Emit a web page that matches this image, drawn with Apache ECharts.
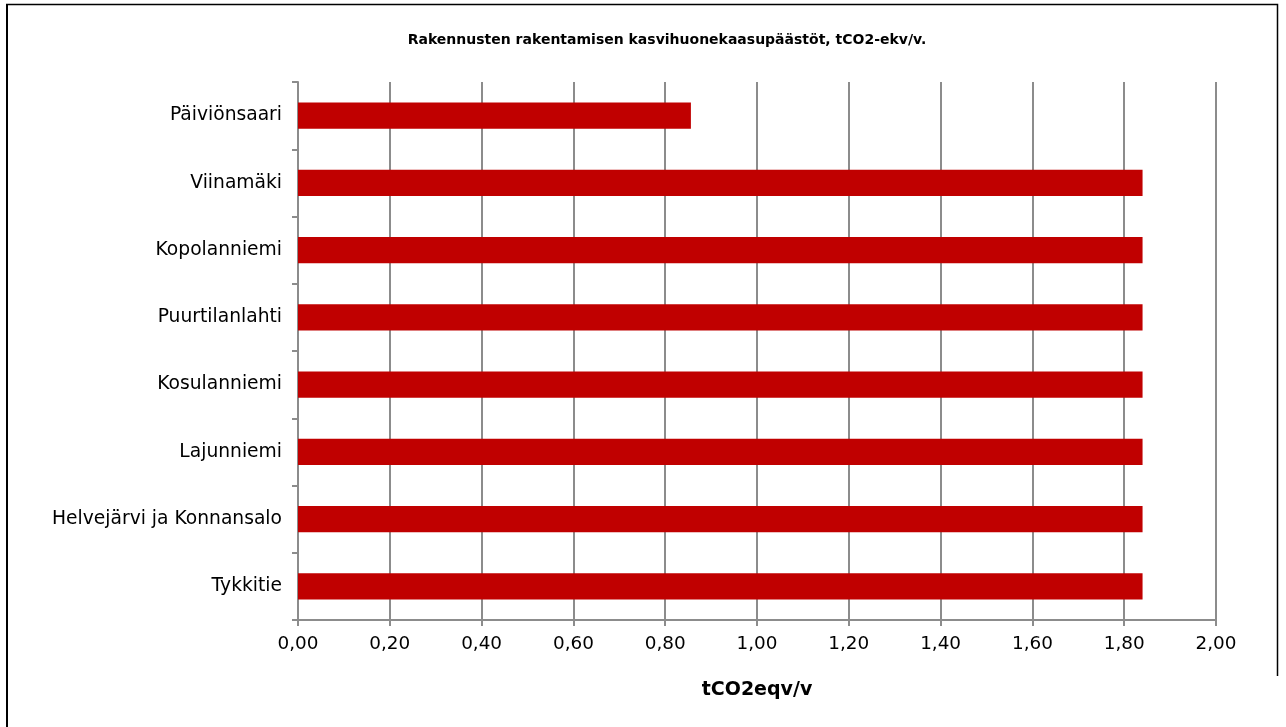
<!DOCTYPE html>
<html>
<head>
<meta charset="utf-8">
<script src="https://cdn.jsdelivr.net/npm/echarts@6/dist/echarts.min.js"></script>
<style>
  html, body { margin: 0; padding: 0; background: #fff; }
  #chart { width: 1286px; height: 727px; }
</style>
</head>
<body>
<div id="chart"></div>
<script>
// Areas, listed from the bottom of the chart to the top
const areas = [
  'Tykkitie',
  'Helvejärvi ja Konnansalo',
  'Lajunniemi',
  'Kosulanniemi',
  'Puurtilanlahti',
  'Kopolanniemi',
  'Viinamäki',
  'Päiviönsaari'
];
// Annual emissions from construction, tCO2-eqv per year
const emissions = [1.84, 1.84, 1.84, 1.84, 1.84, 1.84, 1.84, 0.856];

const titleText = 'Rakennusten rakentamisen kasvihuonekaasupäästöt, tCO2-ekv/v.';
const axisName = 'tCO2eqv/v';

const font = '"DejaVu Sans", Verdana, sans-serif';
const lineGray = '#8c8c8c';

const chart = echarts.init(document.getElementById('chart'), null, { renderer: 'canvas' });

chart.setOption({
  animation: false,
  backgroundColor: '#ffffff',
  title: {
    text: titleText,
    left: 662,
    top: 28,
    textAlign: 'center',
    textStyle: { fontFamily: font, fontSize: 14, fontWeight: 'bold', color: '#000' }
  },
  graphic: [
    {
      type: 'line',
      shape: { x1: 7, y1: 4, x2: 7, y2: 727 },
      style: { stroke: '#000', lineWidth: 2 },
      silent: true
    },
    {
      type: 'polyline',
      shape: { points: [[6, 4.5], [1277.5, 4.5], [1277.5, 676]] },
      style: { stroke: '#000', lineWidth: 1.5, fill: null },
      silent: true
    }
  ],
  grid: { left: 298, right: 70, top: 82, bottom: 107, containLabel: false },
  xAxis: {
    type: 'value',
    min: 0,
    max: 2,
    interval: 0.2,
    name: axisName,
    nameLocation: 'middle',
    nameGap: 61,
    nameTextStyle: { fontFamily: font, fontSize: 19, fontWeight: 'bold', color: '#000' },
    axisLine: { show: true, lineStyle: { color: lineGray, width: 2 } },
    axisTick: { show: true, inside: false, length: 6, lineStyle: { color: lineGray, width: 2 } },
    axisLabel: {
      fontFamily: font, fontSize: 18.4, color: '#000', margin: 15,
      formatter: v => v.toFixed(2).replace('.', ',')
    },
    splitLine: { show: true, lineStyle: { color: lineGray, width: 2 } }
  },
  yAxis: {
    type: 'category',
    data: areas,
    axisLine: { show: true, lineStyle: { color: lineGray, width: 2 } },
    axisTick: { show: true, inside: false, length: 6, alignWithLabel: false, lineStyle: { color: lineGray, width: 2 } },
    axisLabel: { fontFamily: font, fontSize: 18.7, color: '#000', margin: 16 },
    splitLine: { show: false }
  },
  series: [
    {
      type: 'bar',
      data: emissions,
      barCategoryGap: '61%',
      itemStyle: { color: '#c00000' },
      emphasis: { disabled: true }
    }
  ]
});
</script>
</body>
</html>
